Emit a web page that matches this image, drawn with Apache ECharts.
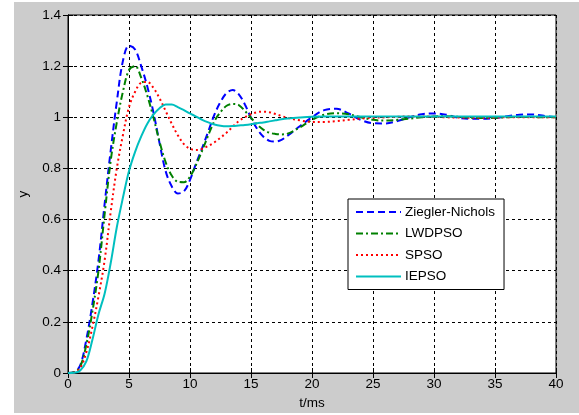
<!DOCTYPE html>
<html>
<head>
<meta charset="utf-8">
<script src="https://cdn.jsdelivr.net/npm/echarts@6/dist/echarts.min.js"></script>
<style>
  body { margin: 0; background: #fff; }
  #bg { position: absolute; left: 14px; top: 2px; right: 0; bottom: 2px; background: #cccccc; }
  #main { position: absolute; left: 0; top: 0; width: 579px; height: 415px; }
</style>
</head>
<body>
<div id="bg"></div>
<div id="main"></div>
<script>
// time axis (ms)
var tMs = [0, 0.5, 1, 1.5, 2, 2.5, 3, 3.5, 4, 4.5, 5, 5.5, 6, 6.5, 7, 7.5, 8, 8.5, 9, 9.5,
  10, 10.5, 11, 11.5, 12, 12.5, 13, 13.5, 14, 14.5, 15, 15.5, 16, 16.5, 17, 17.5, 18,
  19, 20, 21, 22, 23, 24, 25, 26, 27, 28, 29, 30, 31, 32, 33, 34, 35, 36, 37, 38, 39, 40];

var zieglerNichols = [0, 0.003, 0.03, 0.13, 0.27, 0.44, 0.66, 0.87, 1.06, 1.22, 1.28, 1.265, 1.2, 1.12, 1.02, 0.9, 0.79, 0.73, 0.702, 0.71,
  0.755, 0.82, 0.88, 0.945, 1.01, 1.06, 1.095, 1.107, 1.09, 1.05, 0.998, 0.955, 0.925, 0.908, 0.905, 0.912, 0.928,
  0.965, 1.0, 1.028, 1.033, 1.015, 0.99, 0.977, 0.976, 0.985, 1.0, 1.012, 1.015, 1.01, 0.998, 0.994, 0.994, 0.997, 1.004, 1.01, 1.011, 1.006, 1.0];

var lwdpso = [0, 0.003, 0.025, 0.11, 0.24, 0.4, 0.62, 0.83, 0.98, 1.1, 1.185, 1.2, 1.155, 1.085, 1.0, 0.905, 0.825, 0.772, 0.748, 0.746,
  0.768, 0.815, 0.87, 0.93, 0.985, 1.02, 1.045, 1.052, 1.048, 1.025, 0.998, 0.972, 0.952, 0.94, 0.935, 0.933, 0.936,
  0.96, 0.99, 1.01, 1.016, 1.012, 1.0, 0.99, 0.987, 0.99, 0.995, 1.0, 1.003, 1.004, 1.002, 0.998, 0.997, 0.998, 1.0, 1.001, 1.001, 1.0, 1.0];

var spso = [0, 0.002, 0.02, 0.08, 0.18, 0.3, 0.44, 0.63, 0.8, 0.93, 1.04, 1.1, 1.135, 1.138, 1.115, 1.075, 1.025, 0.975, 0.93, 0.895,
  0.877, 0.872, 0.877, 0.888, 0.902, 0.92, 0.94, 0.963, 0.985, 1.0, 1.012, 1.02, 1.022, 1.02, 1.013, 1.005, 0.998,
  0.988, 0.982, 0.982, 0.985, 0.99, 0.995, 0.998, 1.0, 1.002, 1.003, 1.003, 1.002, 1.0, 0.999, 0.998, 0.998, 0.999, 1.0, 1.0, 1.0, 1.0, 1.0];

var iepso = [0, 0.001, 0.01, 0.045, 0.13, 0.23, 0.31, 0.43, 0.57, 0.685, 0.79, 0.865, 0.925, 0.975, 1.01, 1.035, 1.05, 1.05, 1.04, 1.028,
  1.015, 1.003, 0.99, 0.98, 0.972, 0.967, 0.965, 0.966, 0.968, 0.97, 0.973, 0.977, 0.98, 0.984, 0.988, 0.992, 0.995,
  0.999, 1.002, 1.003, 1.003, 1.003, 1.003, 1.003, 1.003, 1.003, 1.003, 1.003, 1.003, 1.003, 1.003, 1.003, 1.003, 1.003, 1.003, 1.003, 1.003, 1.003, 1.003];

var seriesNames = ["Ziegler-Nichols", "LWDPSO", "SPSO", "IEPSO"];
var xTicks = [0, 40, 5];
var yTicks = [0, 1.4, 0.2];

function pairs(vals) {
  return tMs.map(function (t, i) { return [t, vals[i]]; });
}

var font = "'Liberation Sans', Arial, sans-serif";
var gridLine = { show: true, lineStyle: { color: "#000", type: [3, 3], width: 1 } };

var myChart = echarts.init(document.getElementById("main"), null, { renderer: "canvas" });
var options = {
  animation: false,
  textStyle: { fontFamily: font },
  grid: { left: 68, right: 23, top: 15, bottom: 42, show: true, backgroundColor: "#fff", borderColor: "#000", borderWidth: 1 },
  legend: {
    orient: "vertical",
    left: 348,
    top: 199,
    data: seriesNames,
    backgroundColor: "#fff",
    borderColor: "#000",
    borderWidth: 1,
    borderRadius: 0,
    padding: [6, 9, 6, 7],
    itemWidth: 45,
    itemHeight: 12,
    itemGap: 7.5,
    itemStyle: { opacity: 0 },
    textStyle: { color: "#000", fontSize: 13.5, fontFamily: font, padding: [0, 0, 0, -1] },
  },
  xAxis: [
    {
      type: "value",
      min: xTicks[0],
      max: xTicks[1],
      interval: xTicks[2],
      name: "t/ms",
      nameLocation: "middle",
      nameGap: 23,
      nameMoveOverlap: false,
      nameTextStyle: { color: "#000", fontSize: 13.5 },
      axisLine: { show: true, lineStyle: { color: "#000" } },
      axisTick: { show: true, inside: true, length: 5, lineStyle: { color: "#000" } },
      axisLabel: { color: "#000", fontSize: 13.5, margin: 4 },
      splitLine: gridLine,
    },
    {
      type: "value",
      position: "top",
      min: xTicks[0],
      max: xTicks[1],
      interval: xTicks[2],
      axisLine: { show: true, lineStyle: { color: "#000" } },
      axisTick: { show: true, inside: true, length: 5, lineStyle: { color: "#000" } },
      axisLabel: { show: false },
      splitLine: { show: false },
    },
  ],
  yAxis: [
    {
      type: "value",
      min: yTicks[0],
      max: yTicks[1],
      interval: yTicks[2],
      name: "y",
      nameLocation: "middle",
      nameGap: 38,
      nameMoveOverlap: false,
      nameTextStyle: { color: "#000", fontSize: 13.5 },
      axisLine: { show: true, lineStyle: { color: "#000" } },
      axisTick: { show: true, inside: true, length: 5, lineStyle: { color: "#000" } },
      axisLabel: {
        color: "#000",
        fontSize: 13.5,
        margin: 7,
        formatter: function (v) { return String(+v.toFixed(1)); },
      },
      splitLine: gridLine,
    },
    {
      type: "value",
      position: "right",
      min: yTicks[0],
      max: yTicks[1],
      interval: yTicks[2],
      axisLine: { show: true, lineStyle: { color: "#000" } },
      axisTick: { show: true, inside: true, length: 5, lineStyle: { color: "#000" } },
      axisLabel: { show: false },
      splitLine: { show: false },
    },
  ],
  series: [
    {
      name: seriesNames[0],
      type: "line",
      data: pairs(zieglerNichols),
      showSymbol: false,
      symbol: "none",
      smooth: 0.35,
      lineStyle: { color: "#0000ff", width: 2, type: [7, 4] },
      itemStyle: { color: "#0000ff" },
    },
    {
      name: seriesNames[1],
      type: "line",
      data: pairs(lwdpso),
      showSymbol: false,
      symbol: "none",
      smooth: 0.35,
      lineStyle: { color: "#008000", width: 2, type: [7, 3, 2, 3] },
      itemStyle: { color: "#008000" },
    },
    {
      name: seriesNames[2],
      type: "line",
      data: pairs(spso),
      showSymbol: false,
      symbol: "none",
      smooth: 0.35,
      lineStyle: { color: "#ff0000", width: 2, type: [2, 3] },
      itemStyle: { color: "#ff0000" },
    },
    {
      name: seriesNames[3],
      type: "line",
      data: pairs(iepso),
      showSymbol: false,
      symbol: "none",
      smooth: 0.35,
      lineStyle: { color: "#00bfbf", width: 2, type: "solid" },
      itemStyle: { color: "#00bfbf" },
    },
  ],
};
myChart.setOption(options);
</script>
</body>
</html>
